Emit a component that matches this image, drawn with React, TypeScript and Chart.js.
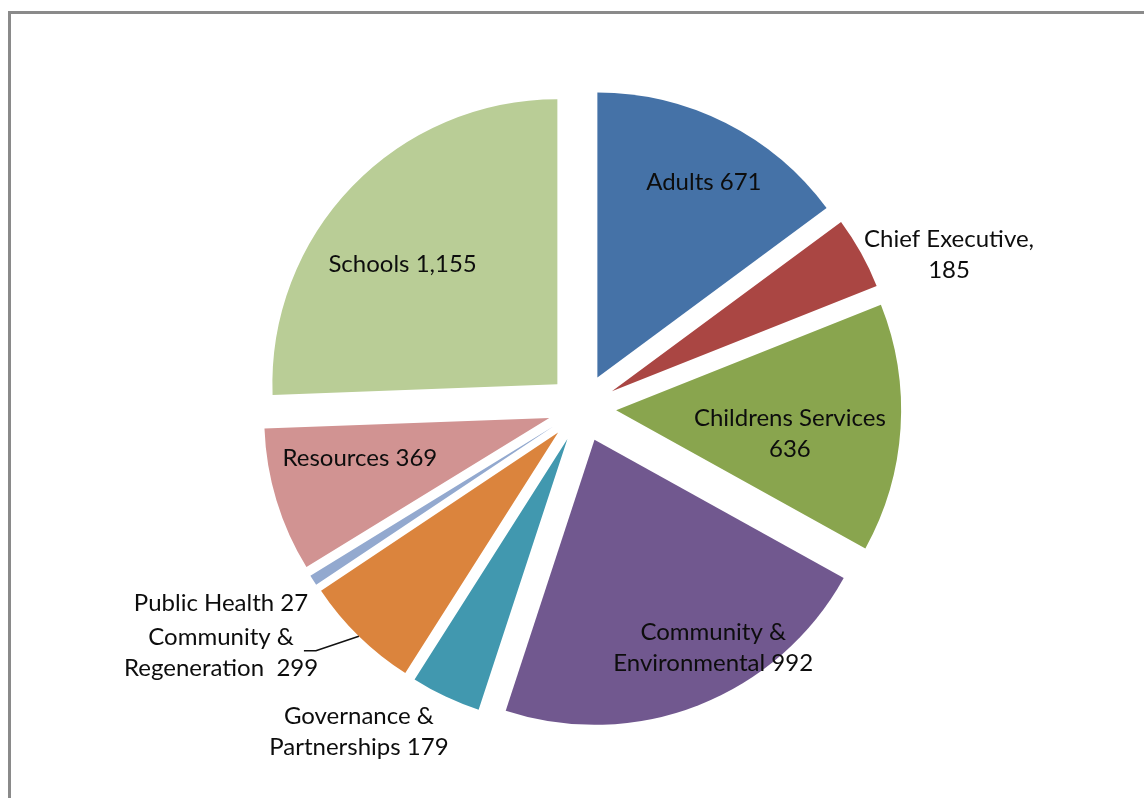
import React, { useEffect, useRef } from "react";
import { Chart, registerables } from "chart.js";

Chart.register(...registerables);

// ---- data ----
const categories = [
  "Adults",
  "Chief Executive",
  "Childrens Services",
  "Community & Environmental",
  "Governance & Partnerships",
  "Community & Regeneration",
  "Public Health",
  "Resources",
  "Schools",
];
const values = [671, 185, 636, 992, 179, 299, 27, 369, 1155];
const labelTemplates = [
  "Adults {v}",
  "Chief Executive,\n{v}",
  "Childrens Services\n{v}",
  "Community &\nEnvironmental {v}",
  "Governance &\nPartnerships {v}",
  "Community &\nRegeneration  {v}",
  "Public Health {v}",
  "Resources {v}",
  "Schools {v}",
];

// ---- styles / layout ----
const colors = [
  "#4572A7",
  "#AA4643",
  "#89A54E",
  "#71588F",
  "#4198AF",
  "#DB843D",
  "#93A9CF",
  "#D19392",
  "#B9CD96",
];
// label placement: angle shift from slice mid-angle (deg) and distance as fraction of radius
const labelPlacement = [
  { dA: 1.6, r: 0.9 },
  { dA: 6.4, r: 1.396 },
  { dA: 3.5, r: 0.735 },
  { dA: -7.3, r: 0.958 },
  { dA: 9.3, r: 1.379 },
  { dA: 11.45, r: 1.531 },
  { dA: 4.24, r: 1.44 },
  { dA: 4.15, r: 0.799 },
  { dA: -5.2, r: 0.807 },
];
const leaderIndex = 5;
const EXPLODE_FRAC = 0.12;
const RADIUS = 285;
const FONT = "24px Lato, 'Open Sans', sans-serif";
const LINE_H = 31;

const explodePlugin = {
  id: "explode",
  beforeDatasetDraw(chart: any, args: any) {
    const ctx = chart.ctx;
    args.meta.data.forEach((arc: any) => {
      const half = (arc.startAngle + arc.endAngle) / 2;
      const e = arc.outerRadius * EXPLODE_FRAC;
      ctx.save();
      ctx.translate(Math.cos(half) * e, Math.sin(half) * e);
      arc.draw(ctx);
      ctx.restore();
    });
    return false;
  },
};

const labelPlugin = {
  id: "pieLabels",
  afterDatasetsDraw(chart: any) {
    const ctx = chart.ctx;
    const meta = chart.getDatasetMeta(0);
    ctx.save();
    ctx.font = FONT;
    ctx.fillStyle = "#0d0d0d";
    ctx.textAlign = "center";
    ctx.textBaseline = "middle";
    meta.data.forEach((arc: any, i: number) => {
      const half = (arc.startAngle + arc.endAngle) / 2;
      const p = labelPlacement[i];
      const a = half + (p.dA * Math.PI) / 180;
      const R = arc.outerRadius;
      const lx = arc.x + Math.cos(a) * R * p.r;
      const ly = arc.y + Math.sin(a) * R * p.r;
      const text = labelTemplates[i].replace(
        "{v}",
        values[i].toLocaleString("en-US")
      );
      const lines = text.split("\n");
      const y0 = ly - ((lines.length - 1) * LINE_H) / 2;
      lines.forEach((ln, k) => ctx.fillText(ln, lx, y0 + k * LINE_H));
      if (i === leaderIndex) {
        const e = R * EXPLODE_FRAC;
        const ex = arc.x + Math.cos(half) * (e + R);
        const ey = arc.y + Math.sin(half) * (e + R);
        const w1 = ctx.measureText(lines[0]).width;
        const sx = lx + w1 / 2 + 10;
        const sy = y0 + 13;
        ctx.beginPath();
        ctx.strokeStyle = "#111";
        ctx.lineWidth = 1.6;
        ctx.moveTo(sx, sy);
        ctx.lineTo(sx + 12, sy);
        ctx.lineTo(ex, ey);
        ctx.stroke();
      }
    });
    ctx.restore();
  },
};

export default function App() {
  const ref = useRef<HTMLCanvasElement | null>(null);
  useEffect(() => {
    if (!ref.current) return;
    const chart = new Chart(ref.current, {
      type: "pie",
      data: {
        labels: categories,
        datasets: [
          {
            data: values,
            backgroundColor: colors,
            borderWidth: 0,
          },
        ],
      },
      options: {
        responsive: false,
        animation: false,
        radius: RADIUS,
        layout: { padding: { left: 9, right: 0, top: 4, bottom: 0 } },
        plugins: {
          legend: { display: false },
          tooltip: { enabled: false },
        },
      } as any,
      plugins: [explodePlugin, labelPlugin],
    });
    return () => chart.destroy();
  }, []);
  return (
    <div
      style={{
        position: "fixed",
        left: 8,
        top: 11,
        width: 1200,
        height: 850,
        borderTop: "3px solid #8a8a8a",
        borderLeft: "3px solid #8a8a8a",
        background: "#fff",
      }}
    >
      <canvas
        ref={ref}
        width={1133}
        height={784}
        style={{ display: "block", width: 1133, height: 784 }}
      />
    </div>
  );
}
